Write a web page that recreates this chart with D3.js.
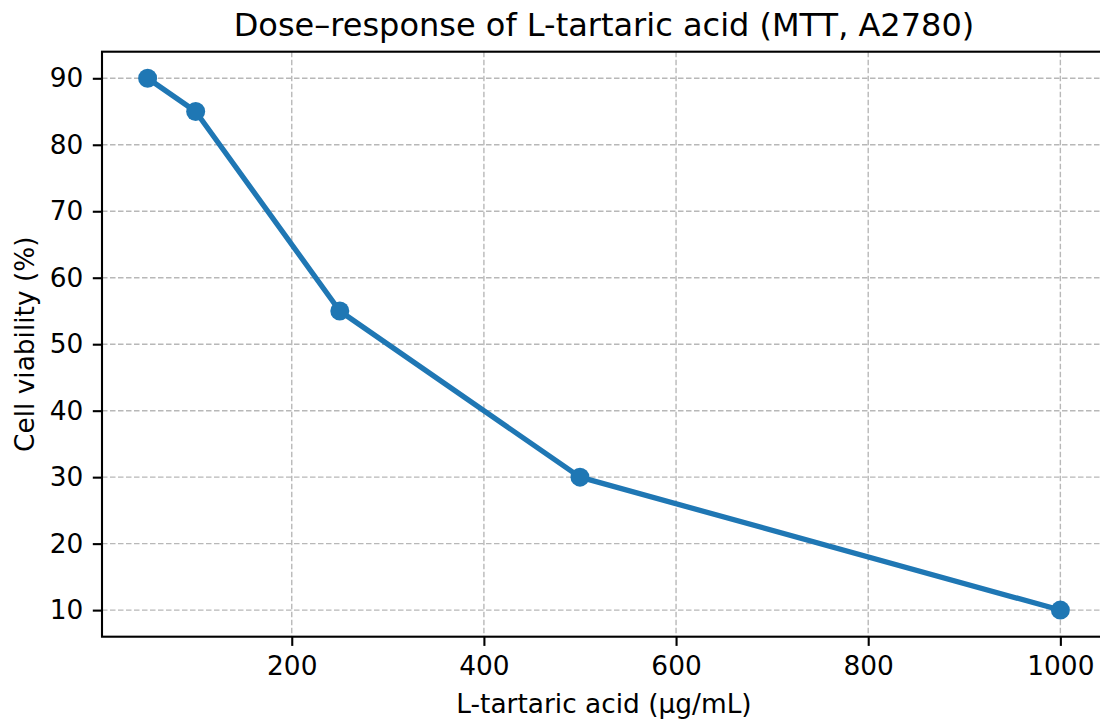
<!DOCTYPE html>
<html>
<head>
<meta charset="utf-8">
<script src="https://cdn.jsdelivr.net/npm/d3@7"></script>
<style>
  html, body { margin: 0; padding: 0; background: #fff; }
  svg { display: block; font-family: 'DejaVu Sans', sans-serif; }
</style>
</head>
<body>
<div id="chart"></div>
<script>
/* Dose-response line chart, matplotlib look */

const doses = [50, 100, 250, 500, 1000];
const viability = [90, 85, 55, 30, 10];
const xTicks = [200, 400, 600, 800, 1000];
const yTicks = [10, 20, 30, 40, 50, 60, 70, 80, 90];

const W = 1100, H = 719;
const plot = { left: 102, right: 1106, top: 51.7, bottom: 636.7 };
const BLUE = '#1f77b4';
const FONT = "'DejaVu Sans', sans-serif";

const svg = d3.select('#chart').append('svg')
  .attr('width', W).attr('height', H);

// matplotlib default 5% margins
const xPad = (d3.max(doses) - d3.min(doses)) * 0.05;
const yPad = (d3.max(viability) - d3.min(viability)) * 0.05;

const x = d3.scaleLinear()
  .domain([d3.min(doses) - xPad, d3.max(doses) + xPad])
  .range([plot.left, plot.right]);
const y = d3.scaleLinear()
  .domain([d3.min(viability) - yPad, d3.max(viability) + yPad])
  .range([plot.bottom, plot.top]);

// grid
const grid = svg.append('g')
  .attr('stroke', '#b8b8b8')
  .attr('stroke-width', 1.4)
  .attr('stroke-dasharray', '5.5,2.5');
grid.selectAll('line.gx').data(xTicks).join('line')
  .attr('x1', d => x(d)).attr('x2', d => x(d))
  .attr('y1', plot.top).attr('y2', plot.bottom);
grid.selectAll('line.gy').data(yTicks).join('line')
  .attr('x1', plot.left).attr('x2', plot.right)
  .attr('y1', d => y(d)).attr('y2', d => y(d));

// axes
const xAxis = svg.append('g')
  .attr('transform', `translate(0,${plot.bottom})`)
  .call(d3.axisBottom(x).tickValues(xTicks).tickSize(9.2).tickPadding(10).tickFormat(d3.format('d')));
const yAxis = svg.append('g')
  .attr('transform', `translate(${plot.left},0)`)
  .call(d3.axisLeft(y).tickValues(yTicks).tickSize(9.2).tickPadding(9.5).tickFormat(d3.format('d')));

[xAxis, yAxis].forEach(a => {
  a.select('.domain').remove();
  a.selectAll('line').attr('stroke', '#000').attr('stroke-width', 2.1);
  a.selectAll('text')
    .attr('fill', '#000')
    .style('font-size', '26.4px')
    .style('font-family', FONT);
});

// frame
svg.append('rect')
  .attr('x', plot.left).attr('y', plot.top)
  .attr('width', plot.right - plot.left).attr('height', plot.bottom - plot.top)
  .attr('fill', 'none').attr('stroke', '#000').attr('stroke-width', 2.1);

// series
const pts = doses.map((d, i) => [d, viability[i]]);
svg.append('path')
  .datum(pts)
  .attr('fill', 'none')
  .attr('stroke', BLUE)
  .attr('stroke-width', 5.3)
  .attr('stroke-linejoin', 'round')
  .attr('stroke-linecap', 'square')
  .attr('d', d3.line().x(d => x(d[0])).y(d => y(d[1])));

svg.selectAll('circle.pt').data(pts).join('circle')
  .attr('cx', d => x(d[0])).attr('cy', d => y(d[1]))
  .attr('r', 9.5)
  .attr('fill', BLUE);

// titles
svg.append('text')
  .attr('x', (plot.left + plot.right) / 2).attr('y', 36)
  .attr('text-anchor', 'middle')
  .style('font-size', '32px')
  .text('Dose\u2013response of L-tartaric acid (MTT, A2780)');

svg.append('text')
  .attr('x', (plot.left + plot.right) / 2).attr('y', 712.5)
  .attr('text-anchor', 'middle')
  .style('font-size', '26.4px')
  .text('L-tartaric acid (\u00b5g/mL)');

svg.append('text')
  .attr('transform', `translate(33.5,${(plot.top + plot.bottom) / 2}) rotate(-90)`)
  .attr('text-anchor', 'middle')
  .style('font-size', '26.4px')
  .text('Cell viability (%)');
</script>
</body>
</html>
